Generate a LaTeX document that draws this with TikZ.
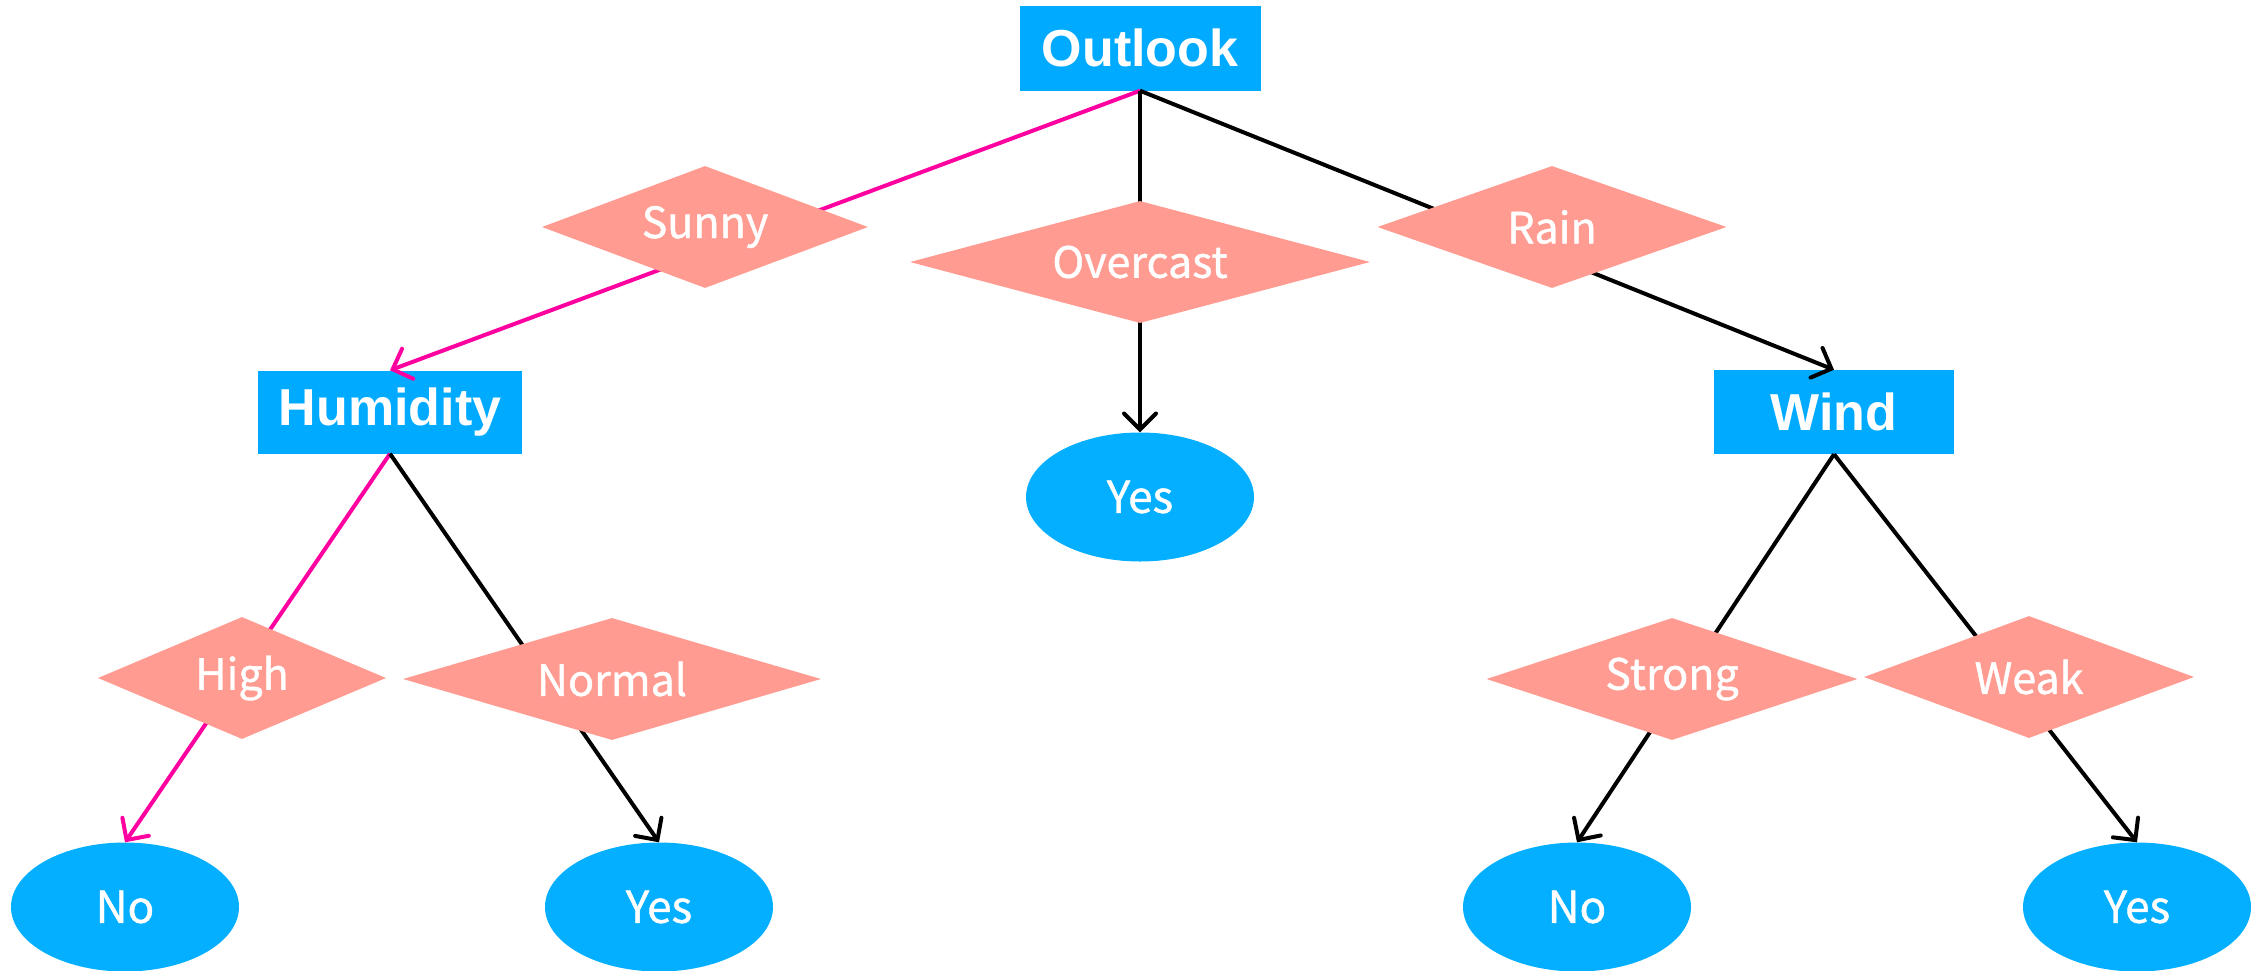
\documentclass[tikz,border=0pt]{standalone}
\usepackage{fontspec}
\setmainfont{Liberation Sans}
\newfontfamily\labfont[FakeBold=1]{Noto Sans CJK SC}
\usetikzlibrary{shapes.geometric,arrows.meta}
\definecolor{boxblue}{RGB}{0,170,255}
\definecolor{leafblue}{RGB}{5,175,255}
\definecolor{salmon}{RGB}{255,155,145}
\definecolor{pinkline}{RGB}{255,0,160}
\tikzset{
  attr/.style={rectangle, fill=boxblue, text=white, inner sep=0pt,
    font=\fontsize{52}{60}\selectfont\bfseries},
  dia/.style={diamond, fill=salmon, text=white, inner sep=0pt,
    font=\labfont\fontsize{43}{50}\selectfont},
  leaf/.style={ellipse, fill=leafblue, text=white, inner sep=0pt,
    minimum width=228pt, minimum height=129pt,
    font=\labfont\fontsize{44}{50}\selectfont},
  edge/.style={line width=4pt, -{Straight Barb[length=16pt,width=32pt,line cap=round]}},
  hot/.style={edge, draw=pinkline},
  plain/.style={edge, draw=black},
}
\begin{document}
\begin{tikzpicture}[x=1pt,y=-1pt]
\useasboundingbox (0,0) rectangle (2251,970);
% attribute boxes
\node[attr, minimum width=241pt, minimum height=85pt] (outlook) at (1140,48) {Outlook};
\node[attr, minimum width=264pt, minimum height=83pt] (humidity) at (390,412) {Humidity};
\node[attr, minimum width=240pt, minimum height=84pt] (wind) at (1834,412) {Wind};
% leaves
\node[leaf] (yes1) at (1140,497) {Yes};
\node[leaf] (no1) at (125,907) {No};
\node[leaf] (yes2) at (659,907) {Yes};
\node[leaf] (no2) at (1577,907) {No};
\node[leaf] (yes3) at (2137,907) {Yes};
% edges
\draw[hot] (outlook.south) -- (humidity.north);
\draw[plain] (outlook.south) -- (yes1.north);
\draw[plain] (outlook.south) -- (wind.north);
\draw[hot] (humidity.south) -- (no1.north);
\draw[plain] (humidity.south) -- (yes2.north);
\draw[plain] (wind.south) -- (no2.north);
\draw[plain] (wind.south) -- (yes3.north);
% branch labels
\node[dia, shape aspect=2.67, minimum width=326pt, minimum height=122pt] (sunny) at (705,227) {Sunny};
\node[dia, shape aspect=3.77, minimum width=460pt, minimum height=122pt] (overcast) at (1140,262) {Overcast};
\node[dia, shape aspect=2.86, minimum width=349pt, minimum height=122pt] (rain) at (1552,227) {Rain};
\node[dia, shape aspect=2.36, minimum width=288pt, minimum height=122pt] (high) at (242,678) {High};
\node[dia, shape aspect=3.43, minimum width=418pt, minimum height=122pt] (normal) at (612,679) {Normal};
\node[dia, shape aspect=3.04, minimum width=371pt, minimum height=122pt] (strong) at (1672,679) {Strong};
\node[dia, shape aspect=2.70, minimum width=330pt, minimum height=122pt] (weak) at (2029,677) {Weak};
\end{tikzpicture}
\end{document}
